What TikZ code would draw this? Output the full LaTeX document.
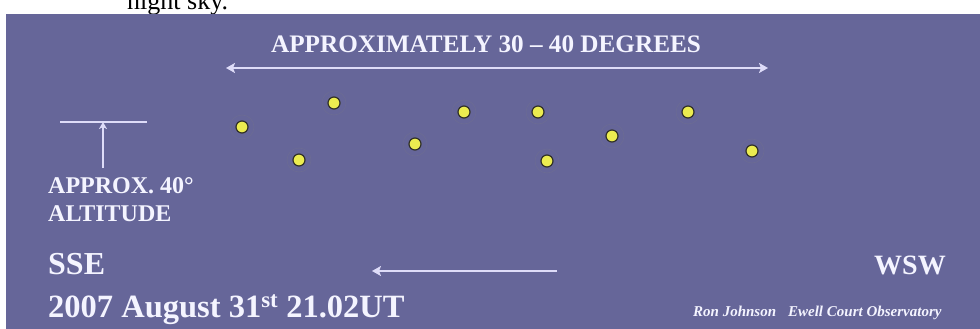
\documentclass[tikz,border=0pt]{standalone}
\usepackage{fontspec}
\setmainfont{Liberation Serif}
\usetikzlibrary{arrows.meta}
\definecolor{sky}{RGB}{102,102,153}
\definecolor{lav}{RGB}{222,220,248}
\definecolor{txt}{RGB}{244,244,255}
\definecolor{staryel}{RGB}{236,236,80}
\definecolor{starrim}{RGB}{50,50,40}
\tikzset{
  lbl/.style={text=txt, font=\bfseries, inner sep=0pt, anchor=base west},
  star/.style={circle, fill=staryel, draw=starrim, line width=1.2pt, minimum size=12pt, inner sep=0pt},
  halo/.style={circle, draw=sky!80!gray, line width=0.6pt, minimum size=24pt, inner sep=0pt},
  guide/.style={draw=lav, line width=1.8pt},
}
\begin{document}
\begin{tikzpicture}[x=1pt,y=-1pt]
\useasboundingbox (0,0) rectangle (980,329);
\begin{scope}
\clip (0,0) rectangle (980,14);
\node[inner sep=0pt, anchor=base west, font=\fontsize{26}{26}\selectfont] (cap) at (127,10) {night sky.};
\end{scope}
\fill[sky] (6,14) rectangle (980,329);
% title and span arrow
\node[lbl, anchor=base, font=\bfseries\fontsize{25.2}{25.2}\selectfont] (title) at (486,53) {APPROXIMATELY 30 -- 40 DEGREES};
\coordinate (spanL) at (226,68);
\coordinate (spanR) at (768,68);
\draw[guide, {Stealth[length=9pt,width=10pt,inset=2pt]}-{Stealth[length=9pt,width=10pt,inset=2pt]}] (spanL) -- (spanR);
% altitude marker
\coordinate (tL) at (60,122);
\coordinate (tR) at (147,122);
\coordinate (tTop) at (103,122);
\coordinate (tBot) at (103,168);
\draw[guide] (tL) -- (tR);
\draw[guide, -{Stealth[length=7pt,width=8pt,inset=2pt]}] (tBot) -- (tTop);
\node[lbl, font=\bfseries\fontsize{24}{24}\selectfont] (alt1) at (48,193) {APPROX. 40°};
\node[lbl, font=\bfseries\fontsize{24}{24}\selectfont] (alt2) at (48,221) {ALTITUDE};
% stars
\foreach \n/\x/\y in {s1/242/127, s2/334/103, s3/299/160, s4/415/144, s5/464/112, s6/538/112, s7/547/161, s8/612/136, s9/688/112, s10/752/151}{
  \node[halo] at (\x,\y) {};
  \node[star] (\n) at (\x,\y) {};
}
% directions
\node[lbl, font=\bfseries\fontsize{32}{32}\selectfont] (sse) at (48,274) {SSE};
\node[lbl, anchor=base east, font=\bfseries\fontsize{28}{28}\selectfont] (wsw) at (946,274) {WSW};
\coordinate (mvR) at (557,271);
\coordinate (mvL) at (372,271);
\draw[guide, -{Stealth[length=9pt,width=10pt,inset=2pt]}] (mvR) -- (mvL);
\node[lbl, font=\bfseries\fontsize{32.5}{32.5}\selectfont] (date) at (48,317) {2007 August 31\textsuperscript{st} 21.02UT};
\node[lbl, font=\bfseries\itshape\fontsize{15}{15}\selectfont] (credit) at (693,316) {Ron Johnson\hspace{12pt}Ewell Court Observatory};
\end{tikzpicture}
\end{document}
